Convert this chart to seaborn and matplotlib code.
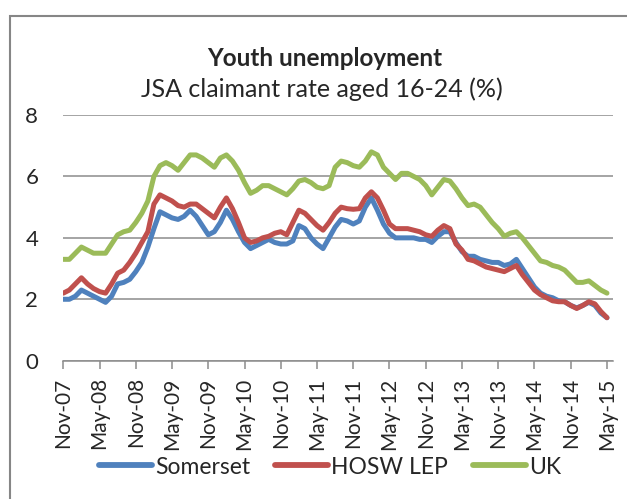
import matplotlib
matplotlib.use("Agg")
import matplotlib.pyplot as plt
from matplotlib.patches import Rectangle
import seaborn as sns
import pandas as pd

# monthly series, Nov-07 .. May-15
months = pd.date_range("2007-11-01", "2015-05-01", freq="MS")

somerset = [2.0, 2.0, 2.1, 2.3, 2.2, 2.1, 2.0, 1.9, 2.1, 2.5,
            2.55, 2.65, 2.9, 3.2, 3.7, 4.3, 4.85, 4.75, 4.65, 4.6,
            4.7, 4.9, 4.7, 4.4, 4.1, 4.2, 4.5, 4.9, 4.6, 4.2,
            3.85, 3.65, 3.75, 3.85, 3.95, 3.85, 3.8, 3.8, 3.9, 4.4,
            4.3, 4.0, 3.8, 3.65, 4.0, 4.35, 4.6, 4.55, 4.45, 4.55,
            5.0, 5.3, 4.9, 4.45, 4.15, 4.0, 4.0, 4.0, 4.0, 3.95,
            3.95, 3.85, 4.05, 4.2, 4.2, 3.85, 3.55, 3.4, 3.4, 3.3,
            3.25, 3.2, 3.2, 3.1, 3.15, 3.3, 3.0, 2.7, 2.4, 2.2,
            2.1, 2.05, 1.95, 1.92, 1.8, 1.72, 1.8, 1.9, 1.8, 1.55,
            1.4]

hosw_lep = [2.2, 2.3, 2.5, 2.7, 2.5, 2.35, 2.25, 2.2, 2.5, 2.85,
            2.95, 3.2, 3.5, 3.85, 4.2, 5.1, 5.4, 5.3, 5.2, 5.05,
            5.0, 5.1, 5.1, 4.95, 4.8, 4.65, 5.0, 5.3, 4.95, 4.5,
            4.0, 3.85, 3.9, 4.0, 4.05, 4.15, 4.2, 4.1, 4.5, 4.9,
            4.8, 4.6, 4.4, 4.25, 4.5, 4.8, 5.0, 4.95, 4.93, 4.95,
            5.3, 5.5, 5.3, 4.9, 4.45, 4.3, 4.3, 4.3, 4.25, 4.2,
            4.1, 4.05, 4.25, 4.4, 4.3, 3.8, 3.6, 3.3, 3.25, 3.15,
            3.05, 3.0, 2.95, 2.9, 3.0, 3.1, 2.8, 2.55, 2.3, 2.15,
            2.05, 1.95, 1.92, 1.92, 1.8, 1.7, 1.8, 1.92, 1.85, 1.6,
            1.4]

uk = [3.3, 3.3, 3.5, 3.7, 3.6, 3.5, 3.5, 3.5, 3.8, 4.1,
      4.2, 4.25, 4.5, 4.8, 5.2, 6.0, 6.35, 6.45, 6.35, 6.2,
      6.45, 6.7, 6.7, 6.6, 6.45, 6.3, 6.6, 6.7, 6.5, 6.2,
      5.8, 5.45, 5.55, 5.7, 5.7, 5.6, 5.5, 5.4, 5.6, 5.85,
      5.9, 5.8, 5.65, 5.6, 5.7, 6.3, 6.5, 6.45, 6.35, 6.3,
      6.5, 6.8, 6.7, 6.3, 6.1, 5.9, 6.1, 6.1, 6.0, 5.9,
      5.7, 5.4, 5.65, 5.9, 5.85, 5.6, 5.3, 5.05, 5.1, 5.0,
      4.75, 4.5, 4.3, 4.05, 4.15, 4.2, 4.0, 3.75, 3.5, 3.25,
      3.2, 3.1, 3.05, 2.95, 2.75, 2.55, 2.55, 2.6, 2.45, 2.3,
      2.2]

series_names = ["Somerset", "HOSW LEP", "UK"]
colors = ["#4F81BD", "#C0504D", "#9BBB59"]
y_ticks = [0, 2, 4, 6, 8]

idx = list(range(len(months)))
df = pd.DataFrame({"m": idx * 3,
                   "rate": somerset + hosw_lep + uk,
                   "area": [n for n in series_names for _ in idx]})

sns.set_style("white")
plt.rcParams["font.family"] = ["Lato", "DejaVu Sans"]

fig = plt.figure(figsize=(6.27, 4.99), dpi=100)
W, H = 627, 499
ax = fig.add_axes([63.3 / W, 1 - 360.7 / H, (613 - 63.3) / W, (360.7 - 115) / H])

sns.lineplot(data=df, x="m", y="rate", hue="area", hue_order=series_names,
             palette=colors, linewidth=3.6, ax=ax, legend=True,
             solid_capstyle="round", solid_joinstyle="round")

ax.set_xlim(0, 91)
ax.set_ylim(0, 8)
ax.set_yticks(y_ticks)
ax.set_yticklabels([str(v) for v in y_ticks], fontsize=16)
ax.yaxis.grid(True, color="#8c8c8c", linewidth=1.1)
ax.set_axisbelow(True)

tick_pos = idx[::6]
ax.set_xticks(tick_pos)
ax.set_xticklabels([months[i].strftime("%b-%y") for i in tick_pos],
                   rotation=90, fontsize=15)
ax.tick_params(axis="x", length=6, width=1.1, color="#8c8c8c", pad=6,
               bottom=True)
ax.tick_params(axis="y", length=0, pad=18)
ax.set_xlabel("")
ax.set_ylabel("")
for s in ["top", "right", "left"]:
    ax.spines[s].set_visible(False)
ax.spines["bottom"].set_color("#8c8c8c")
ax.spines["bottom"].set_linewidth(1.1)

handles, labels = ax.get_legend_handles_labels()
ax.get_legend().remove()
leg = fig.legend(handles, labels, loc="center", ncol=3,
                 bbox_to_anchor=(330 / W, 1 - 467 / H), frameon=False,
                 fontsize=16.5, handlelength=2.3, handletextpad=0.13,
                 columnspacing=1.1)
for h in leg.get_lines():
    h.set_linewidth(4.2)

fig.text(325 / W, 1 - 58 / H, "Youth unemployment", ha="center", va="center",
         fontsize=17.5, fontweight="bold")
fig.text(322 / W, 1 - 89 / H, "JSA claimant rate aged 16-24 (%)",
         ha="center", va="center", fontsize=18)

# chart area border (cropped at right and bottom)
fig.patches.append(Rectangle((10 / W, -0.1), 1.2, 1.1 - 16 / H,
                             transform=fig.transFigure, fill=False,
                             edgecolor="#868686", linewidth=1.5))

fig.savefig("out.png", dpi=100)
